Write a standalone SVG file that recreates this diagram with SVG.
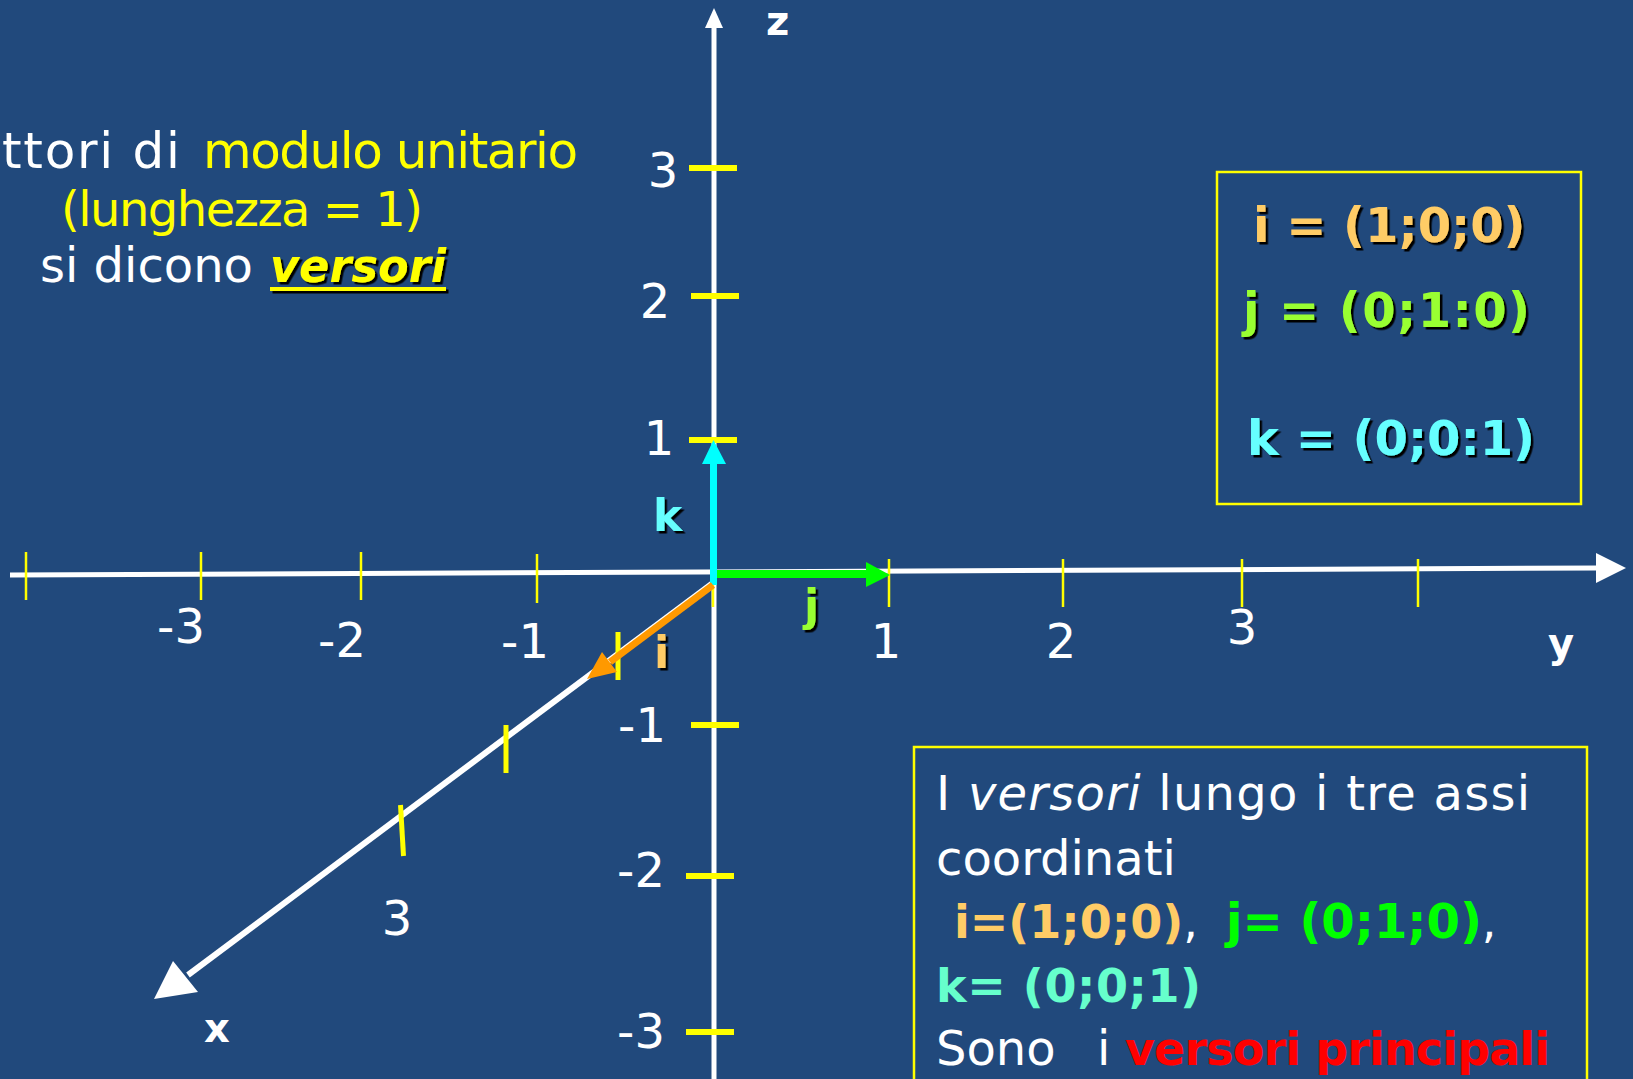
<svg xmlns="http://www.w3.org/2000/svg" width="1633" height="1079" viewBox="0 0 1633 1079">
<style>
text{font-family:"DejaVu Sans","Liberation Sans",sans-serif;}
.w{fill:#ffffff;}
.yl{fill:#ffff00;}
.reg{font-size:48px;}
.num{font-size:48px;fill:#ffffff;text-anchor:middle;}
.axl{font-size:40px;font-weight:bold;fill:#ffffff;}
.bold{font-weight:bold;}
.sh{filter:url(#sh);}
.axis{stroke:#ffffff;stroke-width:5;fill:none;}
.xaxis{stroke:#ffffff;stroke-width:6;fill:none;}
.tk{stroke:#ffff00;stroke-width:2.5;}
.tkx{stroke:#ffff00;stroke-width:5;}
.tkz{stroke:#ffff00;stroke-width:6;}
.box{fill:none;stroke:#ffff00;stroke-width:2.5;}
</style>
<defs>
<filter id="sh" x="-20%" y="-20%" width="140%" height="160%">
<feDropShadow dx="2.5" dy="2.5" stdDeviation="0" flood-color="#000000" flood-opacity="1"/>
</filter>
</defs>
<rect x="0" y="0" width="1633" height="1079" fill="#21497C"/>

<g id="connectors">
<g id="axis-y">
<line class="axis" x1="10" y1="575" x2="1600" y2="568"/>
<polygon fill="#ffffff" points="1626,568 1596,553 1596,583"/>
</g>
<g id="axis-z">
<line class="axis" x1="714" y1="1079" x2="714" y2="24"/>
<polygon fill="#ffffff" points="714,8 705,28 723,28"/>
</g>
<g id="axis-x">
<line class="xaxis" x1="713" y1="583" x2="188" y2="975"/>
<polygon fill="#ffffff" points="154,999 173,961 198,992"/>
</g>
</g>

<g id="ticks-y">
<line class="tk" x1="26" y1="552" x2="26" y2="600"/>
<line class="tk" x1="201" y1="552" x2="201" y2="600"/>
<line class="tk" x1="361" y1="552" x2="361" y2="600"/>
<line class="tk" x1="537" y1="554" x2="537" y2="603"/>
<line class="tk" x1="713" y1="559" x2="713" y2="607"/>
<line class="tk" x1="889" y1="559" x2="889" y2="607"/>
<line class="tk" x1="1063" y1="559" x2="1063" y2="607"/>
<line class="tk" x1="1242" y1="559" x2="1242" y2="607"/>
<line class="tk" x1="1418" y1="559" x2="1418" y2="607"/>
</g>
<g id="ticks-x">
<line class="tkx" x1="618" y1="632" x2="618" y2="680"/>
<line class="tkx" x1="506" y1="725" x2="506" y2="773"/>
<line class="tkx" x1="400.5" y1="805" x2="403.5" y2="856"/>
</g>
<g id="ticks-z">
<line class="tkz" x1="689" y1="168" x2="737" y2="168"/>
<line class="tkz" x1="691" y1="296" x2="739" y2="296"/>
<line class="tkz" x1="689" y1="440" x2="737" y2="440"/>
<line class="tkz" x1="691" y1="725" x2="739" y2="725"/>
<line class="tkz" x1="686" y1="876" x2="734" y2="876"/>
<line class="tkz" x1="686" y1="1032" x2="734" y2="1032"/>
</g>

<g id="tick-labels">
<text class="num" x="663" y="187">3</text>
<text class="num" x="655" y="318">2</text>
<text class="num" x="659" y="455">1</text>
<text class="num" x="642" y="742">-1</text>
<text class="num" x="641" y="887">-2</text>
<text class="num" x="641" y="1048">-3</text>
<text class="num" x="181" y="643">-3</text>
<text class="num" x="342" y="657">-2</text>
<text class="num" x="525" y="658">-1</text>
<text class="num" x="886" y="658">1</text>
<text class="num" x="1061" y="658">2</text>
<text class="num" x="1242" y="644">3</text>
<text class="num" x="397" y="935">3</text>
</g>

<g id="axis-names">
<text class="axl" x="766" y="35" font-size="34">z</text>
<text class="axl" x="1548" y="657">y</text>
<text class="axl" x="204" y="1042">x</text>
</g>

<g id="vector-k">
<line stroke="#00ffff" stroke-width="7" x1="713.5" y1="585" x2="713.5" y2="462"/>
<polygon fill="#00ffff" points="713.5,440 702,464 726,464"/>
<text class="bold sh" x="653" y="531" font-size="44" fill="#66ffff">k</text>
</g>
<g id="vector-j">
<line stroke="#00ff00" stroke-width="8" x1="717" y1="574" x2="867" y2="574"/>
<polygon fill="#00ff00" points="890,575 866,562 866,587"/>
<text class="bold sh" x="804" y="621" font-size="44" fill="#99ff33">j</text>
</g>
<g id="vector-i">
<line stroke="#ff9900" stroke-width="7" x1="713" y1="585" x2="610" y2="662"/>
<polygon fill="#ff9900" points="587,679 602,652 617,672"/>
<text class="bold sh" x="654" y="668" font-size="44" fill="#ffcc66">i</text>
</g>

<g id="intro-text">
<text x="2" y="168" font-size="50"><tspan class="w" textLength="178">ttori di</tspan><tspan class="w"> </tspan><tspan class="yl" x="203" textLength="375">modulo unitario</tspan></text>
<text class="reg yl" x="242" y="226" text-anchor="middle" font-size="46" textLength="362">(lunghezza = 1)</text>
<text class="reg" x="40" y="282"><tspan class="w">si dicono </tspan></text>
<g class="sh">
<text class="yl" x="270" y="282" font-size="46" font-weight="bold" font-style="italic" textLength="176" lengthAdjust="spacingAndGlyphs">versori</text>
<rect x="270" y="287" width="176" height="4" fill="#ffff00"/>
</g>
</g>

<g id="box-components">
<rect class="box" x="1217" y="172" width="364" height="332"/>
<text class="bold sh" x="1253" y="242" font-size="48" fill="#ffcc66">i = (1;0;0)</text>
<text class="bold sh" x="1243" y="327" font-size="48" fill="#99ff33" textLength="287">j = (0;1:0)</text>
<text class="bold sh" x="1247" y="455" font-size="48" fill="#66ffff">k = (0;0:1)</text>
</g>

<g id="box-description">
<rect class="box" x="914" y="747" width="673" height="345"/>
<text class="reg w" x="936" y="810" font-size="50" textLength="594">I <tspan font-style="italic">versori</tspan> lungo i tre assi</text>
<text class="reg w" x="936" y="875" font-size="50">coordinati</text>
<text class="bold" x="954" y="938" font-size="46"><tspan fill="#ffcc66">i=(1;0;0)</tspan><tspan class="w" font-weight="normal">,</tspan> <tspan x="1226" fill="#00ff00" font-size="48">j= (0;1;0)</tspan><tspan class="w" font-weight="normal">,</tspan></text>
<text class="bold" x="936" y="1002" font-size="46" fill="#66ffcc" textLength="265">k= (0;0;1)</text>
<text class="reg" x="936" y="1065" font-size="50"><tspan class="w">Sono  </tspan><tspan class="w" x="1097">i </tspan><tspan x="1125" fill="#ff0000" font-weight="bold" font-size="46" textLength="425">versori principali</tspan></text>
</g>
</svg>
